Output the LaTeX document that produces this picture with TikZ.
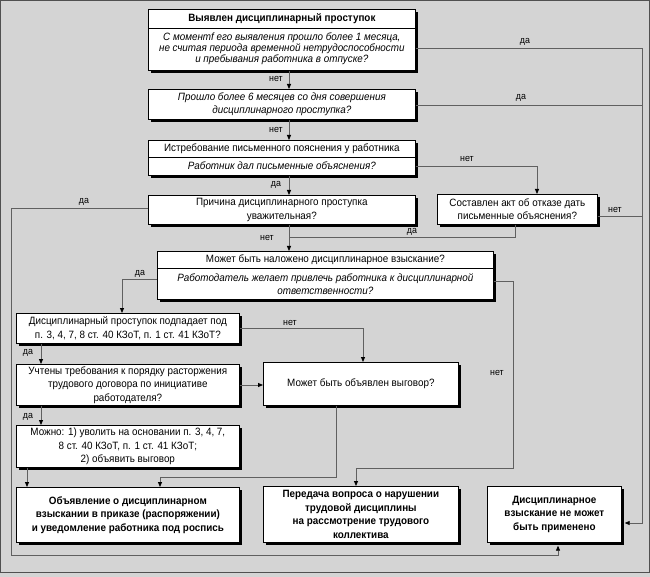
\documentclass[tikz,border=0pt]{standalone}
\usepackage{fontspec}
\setmainfont{Liberation Sans}[FakeStretch=0.93]
\usetikzlibrary{arrows.meta,shadows}
\definecolor{bgc}{RGB}{212,212,212}
\definecolor{linec}{RGB}{96,96,96}
\definecolor{framec}{RGB}{80,80,80}
\tikzset{
 boxst/.style={draw=black, fill=white, line width=0.7pt, inner sep=0pt, anchor=north west,
   drop shadow={shadow xshift=3pt, shadow yshift=-3pt, fill=black, opacity=1}},
 conn/.style={draw=linec, line width=0.8pt},
 arr/.style={-{Triangle[length=5pt,width=4pt,color=black]}},
 lab/.style={font=\fontsize{9.5}{10}\selectfont, inner sep=0pt},
 txt/.style={font=\fontsize{10.6}{13.4}\selectfont, align=center, inner sep=0pt},
 tight/.style={font=\fontsize{10.6}{10.8}\selectfont, align=center, inner sep=0pt},
}
\newcommand{\mybox}[5]{\node[boxst, minimum width={(#4-#2)*1pt}, minimum height={(#5-#3)*1pt}] (#1) at (#2,#3) {};}
\begin{document}
\begin{tikzpicture}[x=1pt,y=-1pt]
\useasboundingbox (0,0) rectangle (650,577);
\fill[bgc] (0,0) rectangle (650,577);
\draw[framec, line width=0.8pt] (0.5,0.5) rectangle (649.3,572.5);

% boxes
\mybox{b1}{148}{9}{415}{70}
\mybox{b2}{148}{89}{415}{119}
\mybox{b3}{148}{140}{415}{175}
\mybox{b4}{148}{195}{415}{224}
\mybox{b5}{437}{194}{597}{224}
\mybox{b6}{157}{251}{493}{299}
\mybox{b7}{16}{313}{239}{343}
\mybox{b8}{16}{364}{239}{405}
\mybox{b9}{16}{425}{239}{467}
\mybox{b10}{263}{362}{458}{405}
\mybox{b12}{16}{487}{239}{542}
\mybox{b13}{263}{486}{458}{542}
\mybox{b14}{487}{486}{621}{542}

% split lines
\draw[line width=0.7pt] (b1.west |- 0,28) -- (b1.east |- 0,28);
\draw[line width=0.7pt] (b3.west |- 0,157) -- (b3.east |- 0,157);
\draw[line width=0.7pt] (b6.west |- 0,268) -- (b6.east |- 0,268);

% connectors
\draw[conn,arr,shorten >=3pt] (b1.east |- 0,48) -- (642,48) |- (b14.east |- 0,523);
\draw[conn] (b2.east |- 0,105) -- (642,105);
\draw[conn] (b5.east |- 0,216) -- (642,216);
\draw[conn,arr] (289,0 |- b1.south) -- (289,0 |- b2.north);
\draw[conn,arr] (289,0 |- b2.south) -- (289,0 |- b3.north);
\draw[conn,arr] (289,0 |- b3.south) -- (289,0 |- b4.north);
\draw[conn,arr] (b3.east |- 0,166) -| (537,0 |- b5.north);
\draw[conn,arr] (289,0 |- b4.south) -- (289,0 |- b6.north);
\coordinate (j1) at (289,237);
\draw[conn] (515,0 |- b5.south) |- (j1);
\draw[conn,arr,shorten >=3pt] (b4.west |- 0,208) -- (11,208) -- (11,555) -| (558,0 |- b14.south);
\draw[conn,arr] (b6.west |- 0,279) -| (122,0 |- b7.north);
\draw[conn,arr] (b6.east |- 0,281) -- (513,281) -- (513,468) -| (356,0 |- b13.north);
\draw[conn,arr] (b7.east |- 0,328) -| (363,0 |- b10.north);
\draw[conn,arr] (41,0 |- b7.south) -- (41,0 |- b8.north);
\draw[conn,arr] (b8.east |- 0,385) -- (b10.west |- 0,385);
\draw[conn,arr] (41,0 |- b8.south) -- (41,0 |- b9.north);
\draw[conn,arr] (27,0 |- b9.south) -- (27,0 |- b12.north);
\draw[conn,arr] (336,0 |- b10.south) -- (336,477) -| (160,0 |- b12.north);

% texts
\node[txt] (t1a) at (b1.center |- 0,18.5) {\bfseries Выявлен дисциплинарный проступок};
\node[tight] (t1b) at (b1.center |- 0,49) {\itshape С моментf его выявления прошло более 1 месяца,\\\itshape не считая периода временной нетрудоспособности\\\itshape и пребывания работника в отпуске?};
\node[txt] (t2) at (b2.center) {\itshape Прошло более 6 месяцев со дня совершения\\\itshape дисциплинарного проступка?};
\node[txt] (t3a) at (b3.center |- 0,148.5) {Истребование письменного пояснения у работника};
\node[txt] (t3b) at (b3.center |- 0,166) {\itshape Работник дал письменные объяснения?};
\node[txt] (t4) at (b4.center) {Причина дисциплинарного проступка\\уважительная?};
\node[txt] (t5) at (b5.center) {Составлен акт об отказе дать\\письменные объяснения?};
\node[txt] (t6a) at (b6.center |- 0,259.5) {Может быть наложено дисциплинарное взыскание?};
\node[txt] (t6b) at (b6.center |- 0,284) {\itshape Работодатель желает привлечь работника к дисциплинарной\\\itshape ответственности?};
\node[txt] (t7) at (b7.center) {Дисциплинарный проступок подпадает под\\п. 3, 4, 7, 8 ст. 40 КЗоТ, п. 1 ст. 41 КЗоТ?};
\node[txt] (t8) at (b8.center) {Учтены требования к порядку расторжения\\трудового договора по инициативе\\работодателя?};
\node[txt] (t9) at (b9.center) {Можно: 1) уволить на основании п. 3, 4, 7,\\8 ст. 40 КЗоТ, п. 1 ст. 41 КЗоТ;\\2) объявить выговор};
\node[txt] (t10) at (b10.center) {Может быть объявлен выговор?};
\node[txt] (t12) at (b12.center) {\bfseries Объявление о дисциплинарном\\\bfseries взыскании в приказе (распоряжении)\\\bfseries и уведомление работника под роспись};
\node[txt] (t13) at (b13.center) {\bfseries Передача вопроса о нарушении\\\bfseries трудовой дисциплины\\\bfseries на рассмотрение трудового\\\bfseries коллектива};
\node[txt] (t14) at (b14.center) {\bfseries Дисциплинарное\\\bfseries взыскание не может\\\bfseries быть применено};

% labels
\node[lab] (l1) at (525,42) {да};
\node[lab] (l2) at (521,98) {да};
\node[lab] (l3) at (615,210) {нет};
\node[lab] (l4) at (276,79) {нет};
\node[lab] (l5) at (276,130) {нет};
\node[lab] (l6) at (276,185) {да};
\node[lab] (l7) at (467,159) {нет};
\node[lab] (l8) at (267,238) {нет};
\node[lab] (l9) at (412,232) {да};
\node[lab] (l10) at (84,202) {да};
\node[lab] (l11) at (140,274) {да};
\node[lab] (l12) at (497,373) {нет};
\node[lab] (l13) at (290,323) {нет};
\node[lab] (l14) at (28,353) {да};
\node[lab] (l15) at (28,417) {да};
\end{tikzpicture}
\end{document}
